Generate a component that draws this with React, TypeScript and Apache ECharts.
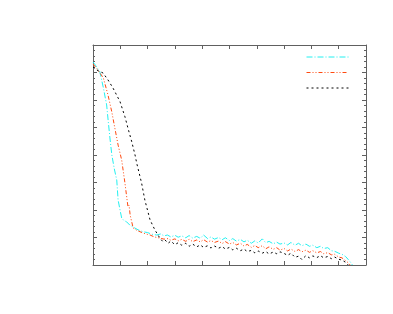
import React, { useEffect, useRef } from "react";
import * as echarts from "echarts";

const cyanData: number[][] = [
  [0, 73.8], [1, 72.5], [2.5, 70.3], [3.8, 64.4], [5, 58.2], [5.6, 52.1], [6.2, 46.2], [6.9, 40], [7.8, 35],
  [8.7, 30.9], [9.2, 23.6], [10, 19.5], [10.5, 17.1], [11.3, 16.2], [12.3, 15.7], [13.5, 14.5], [14.7, 13.8],
  [16.5, 12.8], [18.3, 12.1], [20, 11.8], [21.5, 11.2], [23.3, 10.9], [24.8, 11.3], [26, 10.6], [27.3, 10.9],
  [28.5, 10.2], [30, 10.8], [31.2, 10.1], [32.5, 10.6], [34, 9.9], [35.2, 10.7], [36.5, 9.8], [38, 10.4],
  [39.3, 9.7], [40.5, 10.9], [42, 9.6], [43.2, 10.2], [44.5, 9.4], [46, 10.0], [47.3, 9.2], [48.5, 9.9],
  [50, 8.9], [51.2, 9.6], [52.5, 8.7], [54, 9.3], [55.3, 8.4], [56.5, 9.0], [58, 7.9], [59.3, 8.8],
  [60.5, 8.0], [62, 9.5], [63.3, 8.1], [64.5, 8.6], [66, 7.7], [67.3, 8.3], [68.5, 7.6], [70, 8.0],
  [71.3, 7.3], [72.5, 8.2], [74, 7.2], [75.3, 7.9], [76.5, 7.0], [78, 7.6], [79.3, 6.8], [80.5, 7.2],
  [82, 6.3], [83.3, 6.8], [84.5, 6.0], [86, 6.3], [87.3, 5.2], [88.5, 5.0], [90, 4.3], [91.2, 3.9],
  [92.5, 3.1], [93.5, 2.0], [94.5, 0.8], [95, 0],
];

const orangeData: number[][] = [
  [0, 73.1], [1.8, 70.9], [3.8, 68], [5.5, 61.8], [6.9, 55.6], [8, 49.8], [9.2, 43.6], [10.5, 38.2],
  [11.7, 29.8], [12.8, 21.2], [13.2, 21.8], [13.6, 18.2], [14.7, 13.5], [16, 12.6], [17.2, 12.1], [19, 11.4],
  [20.9, 10.9], [22.5, 10.2], [24.5, 9.8], [26, 9.4], [27.5, 9.6], [28.5, 9.0], [30, 9.5], [31.2, 8.8],
  [32.5, 9.3], [34, 8.6], [35.2, 9.4], [36.5, 8.5], [38, 9.1], [39.3, 8.4], [40.5, 9.2], [42, 8.3],
  [43.2, 8.9], [44.5, 8.2], [46, 8.7], [47.3, 7.8], [48.5, 8.5], [50, 7.6], [51.2, 8.2], [52.5, 7.3],
  [54, 7.9], [55.3, 6.9], [56.5, 7.5], [58, 6.4], [59.3, 7.1], [60.5, 6.3], [62, 7.0], [63.3, 5.9],
  [64.5, 6.6], [66, 5.7], [67.3, 6.3], [68.5, 5.4], [70, 6.0], [71.3, 5.1], [72.5, 5.8], [74, 4.9],
  [75.3, 5.6], [76.5, 4.8], [78, 5.4], [79.3, 4.6], [80.5, 5.2], [82, 4.4], [83.3, 4.9], [84.5, 4.1],
  [86, 4.5], [87.3, 3.7], [88.5, 3.9], [90, 2.9], [91.2, 2.6], [92.5, 1.6], [93.5, 0.8], [94.2, 0],
];

const blackData: number[][] = [
  [0, 72], [1.4, 70.9], [3.7, 69.8], [5.5, 67.3], [7.3, 64.4], [9.9, 59.4], [11.7, 53.9], [12.8, 49.8],
  [14.2, 44.8], [15.4, 40], [16, 37.1], [17.8, 29.8], [19, 23.6], [20.9, 16.4], [22.7, 12.7], [24.5, 9.8],
  [25.5, 8.6], [26.4, 9.1], [27.5, 7.9], [28.5, 8.7], [30, 7.4], [31.2, 8.1], [32.5, 7.2], [34, 7.9],
  [35.2, 6.8], [36.5, 7.6], [38, 6.6], [39.3, 7.3], [40.5, 6.4], [42, 7.0], [43.2, 6.2], [44.5, 6.9],
  [46, 6.1], [47.3, 6.7], [48.5, 5.8], [50, 6.4], [51.2, 5.5], [52.5, 6.1], [54, 5.2], [55.3, 5.8],
  [56.5, 4.9], [58, 5.3], [59.3, 4.4], [60.5, 5.1], [62, 4.3], [63.3, 4.9], [64.5, 4.0], [66, 4.7],
  [67.3, 4.1], [68.5, 4.8], [70, 4.2], [71.3, 3.5], [72.5, 4.3], [74, 2.8], [75.3, 3.2], [76.5, 2.0],
  [78, 3.4], [79.3, 2.6], [80.5, 3.3], [82, 2.7], [83.3, 3.4], [84.5, 2.6], [86, 3.1], [87.3, 2.3],
  [88.5, 2.9], [90, 2.1], [91.2, 1.8], [92.5, 1.0], [93.5, 0],
];

const seriesNames = ["a", "b", "c"];
const seriesColors = ["#22f0f0", "#ff4a10", "#000000"];
const seriesDash = [[6, 2, 1, 2], [4, 2, 1, 2, 1, 2], [2, 3]];

const X_MIN = 0, X_MAX = 100, X_INT = 10;
const Y_MIN = 0, Y_MAX = 80, Y_INT = 10;

export default function App() {
  const ref = useRef<HTMLDivElement>(null);
  useEffect(() => {
    if (!ref.current) return;
    const chart = echarts.init(ref.current, undefined, { renderer: "svg" });
    const axisColor = "#606060";
    const xAxisBase = {
      type: "value" as const,
      min: X_MIN, max: X_MAX, interval: X_INT,
      axisLine: { show: true, onZero: false, lineStyle: { color: axisColor, width: 1 } },
      axisTick: { show: true, inside: true, length: 4, lineStyle: { color: axisColor } },
      axisLabel: { show: false },
      splitLine: { show: false },
    };
    const yAxisBase = {
      type: "value" as const,
      min: Y_MIN, max: Y_MAX, interval: Y_INT,
      axisLine: { show: true, onZero: false, lineStyle: { color: axisColor, width: 1 } },
      axisTick: { show: true, inside: true, length: 4, lineStyle: { color: axisColor } },
      minorTick: { show: true, splitNumber: 5, length: 2, lineStyle: { color: axisColor } },
      axisLabel: { show: false },
      splitLine: { show: false },
      minorSplitLine: { show: false },
    };
    const datasets = [cyanData, orangeData, blackData];
    chart.setOption({
      animation: false,
      backgroundColor: "#ffffff",
      grid: { left: 93, top: 45, right: 27, bottom: 49, containLabel: false },
      xAxis: [
        { ...xAxisBase, position: "bottom" },
        { ...xAxisBase, position: "top" },
      ],
      yAxis: [
        { ...yAxisBase, position: "left" },
        { ...yAxisBase, position: "right" },
      ],
      legend: {
        show: true,
        orient: "vertical",
        left: 301,
        top: 47,
        padding: 5,
        itemWidth: 42,
        itemHeight: 10,
        itemGap: 6.5,
        formatter: () => "",
        textStyle: { fontSize: 1 },
        itemStyle: { opacity: 0 },
        lineStyle: { width: 1 },
        data: seriesNames,
      },
      series: datasets.map((d, i) => ({
        name: seriesNames[i],
        type: "line",
        data: d,
        xAxisIndex: 0,
        yAxisIndex: 0,
        showSymbol: false,
        symbol: "none",
        lineStyle: { color: seriesColors[i], width: 1, type: seriesDash[i] },
        itemStyle: { color: seriesColors[i] },
      })),
    });
    return () => chart.dispose();
  }, []);
  return <div ref={ref} style={{ width: 393, height: 314, marginLeft: -8, marginTop: -8 }} />;
}
